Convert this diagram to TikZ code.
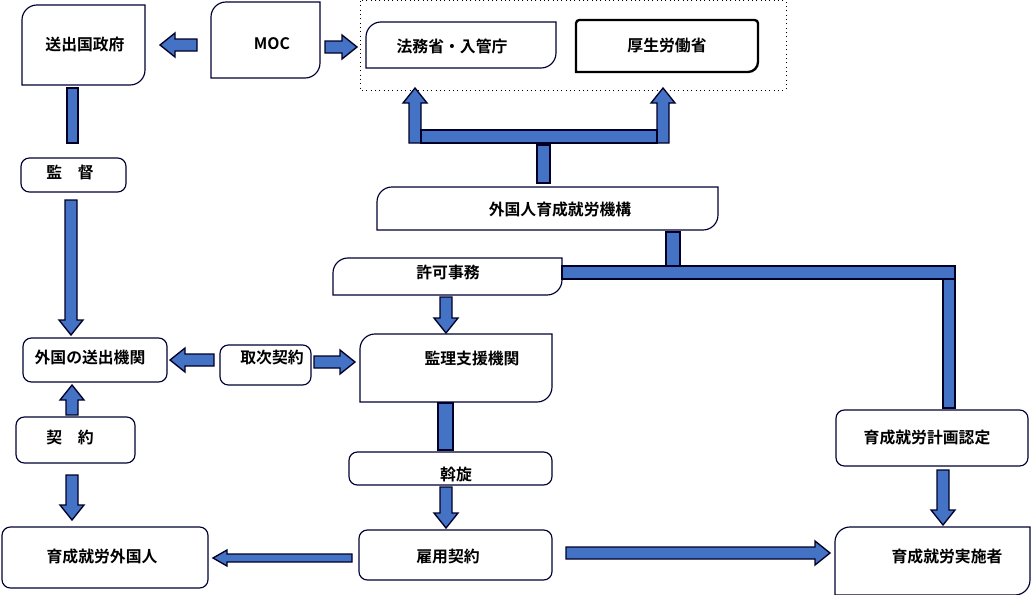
\documentclass[tikz,border=0pt]{standalone}
\usepackage{fontspec}
\setmainfont{Noto Sans CJK JP}[BoldFont={Noto Sans CJK JP Bold}]
\begin{document}
\def\u{0.6pt}
\begin{tikzpicture}[x=0.6pt, y=-0.6pt,
    box/.style={draw=black!80!blue, line width=0.7pt, fill=white, rounded corners=5pt, inner sep=0pt},
    dbox/.style={draw=black!80!blue, line width=0.7pt, fill=white, inner sep=0pt},
    txt/.style={font=\bfseries\fontsize{9.5}{11}\selectfont, inner sep=0pt},
    blk/.style={draw=black!85!blue, line width=0.8pt, fill={rgb,255:red,68;green,114;blue,196}}]
  \useasboundingbox (0,0) rectangle (1034,595);
  % boxes, all corners rounded
  \newcommand\jbox[5]{\node[box, minimum width={(#4-#2)*\u}, minimum height={(#5-#3)*\u}] (#1) at ({(#2+#4)/2},{(#3+#5)/2}) {};}
  % boxes, two diagonal corners rounded
  \newcommand\diagbox[5]{\node[minimum width={(#4-#2)*\u}, minimum height={(#5-#3)*\u}, inner sep=0pt] (#1) at ({(#2+#4)/2},{(#3+#5)/2}) {};
    \draw[dbox] (#2,#5) [rounded corners=9pt] -- (#2,#3) [sharp corners] -- (#4,#3) [rounded corners=9pt] -- (#4,#5) [sharp corners] -- cycle;}
  % block arrow: tail x, tail y, angle, length
  \newcommand\arr[4]{\begin{scope}[shift={(#1,#2)}, rotate=#3]
    \draw[blk] (0,-6) -- (#4-15,-6) -- (#4-15,-12) -- (#4,0) -- (#4-15,12) -- (#4-15,6) -- (0,6) -- cycle;
  \end{scope}}
  \newcommand\arrt[4]{\begin{scope}[shift={(#1,#2)}, rotate=#3]
    \draw[blk] (0,-4) -- (#4-14,-4) -- (#4-14,-8) -- (#4,0) -- (#4-14,8) -- (#4-14,4) -- (0,4) -- cycle;
  \end{scope}}

  % Nodes
  \draw[dotted, line width=0.6pt] (360,1) rectangle (786,90);
  \diagbox{gov}{22}{5}{145}{85}
  \node[txt] (govt) at (85,45) {送出国政府};
  \diagbox{moc}{211}{2}{320}{78}
  \node[txt] (moct) at (272,44) {MOC};
  \diagbox{moj}{366}{22}{556}{68}
  \node[txt] (mojt) at (452,46) {法務省・入管庁};
  \draw[line width=1.4pt] (576,72) [rounded corners=2pt] -- (576,20) -- (758,20) [rounded corners=6pt] -- (758,72) [sharp corners] -- cycle;
  \node[minimum width=182*\u, minimum height=52*\u] (mhlw) at (667,46) {};
  \node[txt] (mhlwt) at (667,46) {厚生労働省};
  \jbox{kan}{21}{158}{126}{192}
  \node[txt] (kant) at (70,172) {監\quad 督};
  \diagbox{otit}{377}{187}{718}{230}
  \node[txt] (otitt) at (560,210) {外国人育成就労機構};
  \diagbox{kyoka}{333}{258}{562}{295}
  \node[txt] (kyokat) at (448,272) {許可事務};
  \jbox{sendo}{23}{338}{167}{382}
  \node[txt] (sendot) at (90,357) {外国の送出機関};
  \jbox{tori}{220}{345}{311}{385}
  \node[txt] (torit) at (272,357) {取次契約};
  \diagbox{kanri}{360}{334}{552}{402}
  \node[txt] (kanrit) at (472,358) {監理支援機関};
  \jbox{keiyaku}{16}{417}{135}{463}
  \node[txt] (keiyakut) at (70,437) {契\quad 約};
  \jbox{nintei}{836}{410}{1028}{466}
  \node[txt] (ninteit) at (927,438) {育成就労計画認定};
  \jbox{assen}{349}{452}{552}{485}
  \node[txt] (assent) at (456,475) {斡旋};
  \jbox{gaikoku}{2}{527}{208}{588}
  \node[txt] (gaikokut) at (102,557) {育成就労外国人};
  \jbox{koyo}{359}{530}{552}{580}
  \node[txt] (koyot) at (448,557) {雇用契約};
  \diagbox{jisshi}{835}{527}{1030}{595}
  \node[txt] (jisshit) at (947,557) {育成就労実施者};

  % Arrows
  \arr{197}{45}{180}{37}
  \arr{325}{47}{0}{32}
  \draw[blk] (67,88) rectangle (78,143);
  \arr{71}{200}{-90}{135}
  \arr{415}{143}{90}{55}
  \arr{663}{143}{90}{55}
  \draw[blk] (421,130) rectangle (657,143);
  \draw[blk] (537,145) rectangle (550,183);
  \draw[blk] (666,232) rectangle (680,266);
  \draw[blk] (562,266) rectangle (955,279);
  \draw[blk] (943,279) rectangle (955,408);
  \arr{446}{297}{-90}{36}
  \arr{214}{360}{180}{44}
  \arr{314}{362}{0}{41}
  \draw[blk] (438,403) rectangle (453,450);
  \arr{446}{487}{-90}{41}
  \arr{72}{415}{90}{30}
  \arr{72}{475}{-90}{45}
  \arrt{352}{558}{180}{139}
  \arr{566}{553}{0}{264}
  \arr{943}{470}{-90}{55}
\end{tikzpicture}
\end{document}
